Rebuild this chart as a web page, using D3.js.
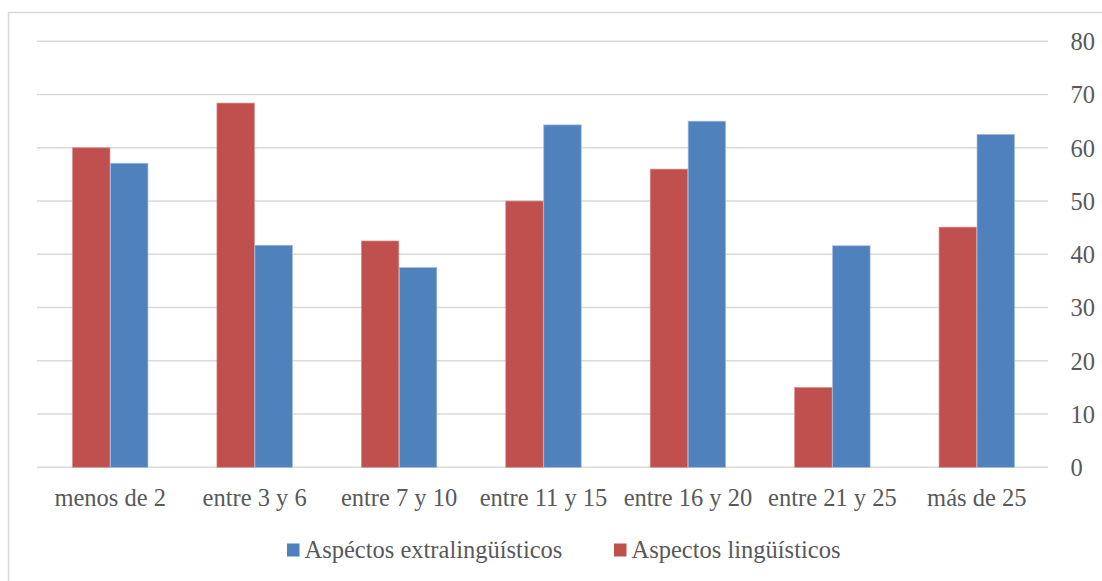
<!DOCTYPE html>
<html><head><meta charset="utf-8">
<script src="https://cdnjs.cloudflare.com/ajax/libs/d3/7.8.5/d3.min.js"></script>
<style>
html,body{margin:0;padding:0;background:#fff;}
svg{display:block;}
text{font-family:"Liberation Serif","Times New Roman",serif;fill:#595959;}
</style></head>
<body><svg id="c" width="1102" height="581"></svg>
<script>
const categories = ["menos de 2","entre 3 y 6","entre 7 y 10","entre 11 y 15","entre 16 y 20","entre 21 y 25","más de 25"];
const seriesNames = ["Aspectos lingüísticos","Aspéctos extralingüísticos"];
const linguisticos = [60.0, 68.4, 42.5, 50.0, 56.0, 15.0, 45.1];
const extralinguisticos = [57.1, 41.7, 37.5, 64.3, 65.0, 41.6, 62.5];
const yTicks = [0,10,20,30,40,50,60,70,80];
const legendOrder = ["Aspéctos extralingüísticos","Aspectos lingüísticos"];
const colors = {"Aspectos lingüísticos":"#C0504D","Aspéctos extralingüísticos":"#4F81BD"};
const strokes = {"Aspectos lingüísticos":"#d9908e","Aspéctos extralingüísticos":"#9dbbe0"};

(function(){
const svg = d3.select("#c");
svg.append("rect").attr("x",8.5).attr("y",12.5).attr("width",1120).attr("height",600)
  .attr("fill","none").attr("stroke","#d9d9d9").attr("stroke-width",1.5);

const pLeft=38, pRight=1049, pTop=41.3, pBottom=467.3;
const x0 = d3.scaleBand().domain(categories).range([pLeft,pRight]).paddingInner(0.474).paddingOuter(0.237);
const x1 = d3.scaleBand().domain(seriesNames).range([0,x0.bandwidth()]);
const y = d3.scaleLinear().domain([0,80]).range([pBottom,pTop]);

svg.append("g").selectAll("line").data(yTicks).join("line")
  .attr("x1",pLeft-1).attr("x2",pRight-1).attr("y1",d=>y(d)).attr("y2",d=>y(d))
  .attr("stroke","#d9d9d9").attr("stroke-width",1.5);

const yAxis = d3.axisRight(y).tickValues(yTicks).tickSize(0).tickPadding(0);
const ga = svg.append("g").attr("transform",`translate(1070.5,0)`).call(yAxis);
ga.select(".domain").remove();
ga.selectAll("text").attr("x",0).style("font-size","24.5px").attr("fill","#595959")
  .attr("font-family","Liberation Serif").attr("dy","0.34em");

const rows = categories.map((c,i)=>({cat:c, vals:[
  {s:"Aspectos lingüísticos", v:linguisticos[i]},
  {s:"Aspéctos extralingüísticos", v:extralinguisticos[i]}]}));

const g = svg.append("g").selectAll("g").data(rows).join("g")
  .attr("transform",d=>`translate(${x0(d.cat)},0)`);
g.selectAll("rect").data(d=>d.vals).join("rect")
  .attr("x",d=>x1(d.s)+0.25).attr("width",x1.bandwidth()-0.5)
  .attr("y",d=>y(d.v)).attr("height",d=>pBottom-y(d.v))
  .attr("fill",d=>colors[d.s]).attr("stroke",d=>strokes[d.s]).attr("stroke-width",0.7);

const xAxis = d3.axisBottom(x0).tickSize(0).tickPadding(0);
const gx = svg.append("g").attr("transform",`translate(0,${pBottom})`).call(xAxis);
gx.select(".domain").remove();
gx.selectAll("text").attr("y",39).attr("dy",0).style("font-size","24.5px")
  .attr("fill","#595959").attr("font-family","Liberation Serif");

const legX = [287, 614];
const lg = svg.append("g").selectAll("g").data(legendOrder).join("g")
  .attr("transform",(d,i)=>`translate(${legX[i]},0)`);
lg.append("rect").attr("x",0).attr("y",543.5).attr("width",12.5).attr("height",13)
  .attr("fill",d=>colors[d]);
lg.append("text").attr("x",17.5).attr("y",557.5).style("font-size","24.5px").text(d=>d);
})();
</script></body></html>
